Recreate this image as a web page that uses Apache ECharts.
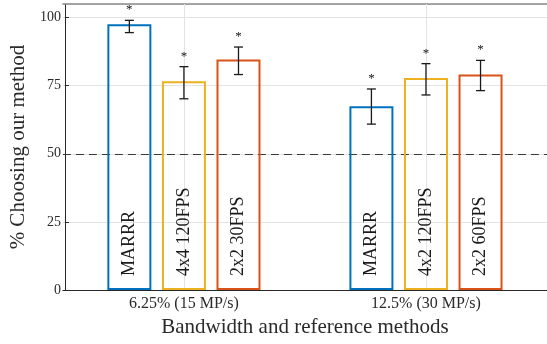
<!DOCTYPE html>
<html>
<head>
<meta charset="utf-8">
<script src="https://cdn.jsdelivr.net/npm/echarts@6/dist/echarts.min.js"></script>
<style>
html,body{margin:0;padding:0;background:#fff;}
#chart{width:547px;height:344px;}
</style>
</head>
<body>
<div id="chart"></div>
<script>
// ---- data ----
const categories = ['6.25% (15 MP/s)', '12.5% (30 MP/s)'];
const methodLabels = [
  ['MARRR', 'MARRR'],
  ['4x4 120FPS', '4x2 120FPS'],
  ['2x2 30FPS', '2x2 60FPS']
];
const means = [
  [97.6, 67.5],
  [76.6, 77.8],
  [84.6, 79.1]
];
const errLow = [
  [94.5, 60.9],
  [70.2, 71.6],
  [79.1, 73.2]
];
const errHigh = [
  [99.0, 73.8],
  [82.0, 83.1],
  [89.2, 84.3]
];
const significance = [
  ['*', '*'],
  ['*', '*'],
  ['*', '*']
];
const yTicks = [0, 25, 50, 75, 100];
const chanceLevel = 50;

// ---- style ----
const colors = ['#0072BD', '#EDB120', '#D95319'];
const serif = '"Liberation Serif", "DejaVu Serif", serif';
const barWidth = 44;
const barGap = 0.24;
const textColor = '#2a2a2a';

const chart = echarts.init(document.getElementById('chart'), null, {renderer: 'canvas'});

const series = [];
means.forEach((vals, m) => {
  const s = {
    type: 'bar',
    name: 'm' + m,
    barWidth: barWidth,
    barGap: (barGap * 100) + '%',
    data: vals,
    itemStyle: {color: 'rgba(255,255,255,0)', borderColor: colors[m], borderWidth: 2},
    label: {
      show: true,
      position: 'insideBottom',
      rotate: 90,
      align: 'left',
      verticalAlign: 'middle',
      distance: 14,
      formatter: p => methodLabels[m][p.dataIndex],
      fontFamily: serif,
      fontSize: 18,
      color: '#1a1a1a'
    },
    emphasis: {disabled: true},
    z: 3
  };
  series.push(s);
});

means.forEach((vals, m) => {
  const offset = (m - 1) * barWidth * (1 + barGap);
  const s = {
    type: 'custom',
    name: 'err' + m,
    encode: {x: 0, y: [1, 2]},
    data: vals.map((v, i) => [i, errLow[m][i], errHigh[m][i]]),
    z: 5,
    silent: true,
    renderItem: function (params, api) {
      const ci = api.value(0);
      const lo = api.coord([ci, api.value(1)]);
      const hi = api.coord([ci, api.value(2)]);
      const x = lo[0] + offset;
      const cap = 4.5;
      const st = {stroke: '#1a1a1a', lineWidth: 1.3};
      return {
        type: 'group',
        children: [
          {type: 'line', shape: {x1: x, y1: lo[1], x2: x, y2: hi[1]}, style: st},
          {type: 'line', shape: {x1: x - cap, y1: lo[1], x2: x + cap, y2: lo[1]}, style: st},
          {type: 'line', shape: {x1: x - cap, y1: hi[1], x2: x + cap, y2: hi[1]}, style: st},
          {type: 'text', style: {
            text: significance[m][params.dataIndex], x: x, y: hi[1] - 4,
            align: 'center', verticalAlign: 'bottom',
            font: '13px ' + serif, fill: '#111'
          }}
        ]
      };
    }
  };
  if (m === 1) {
    s.markLine = {
      silent: true,
      symbol: 'none',
      label: {show: false},
      z: 1,
      data: [
        {xAxis: 0, lineStyle: {color: '#e3e3e3', width: 1, type: 'solid'}},
        {xAxis: 1, lineStyle: {color: '#e3e3e3', width: 1, type: 'solid'}},
        {yAxis: chanceLevel, lineStyle: {color: '#3a3a3a', width: 1, type: [8, 5]}}
      ]
    };
  }
  series.push(s);
});

const option = {
  animation: false,
  backgroundColor: '#fff',
  grid: {left: 61, right: -7, top: 4, bottom: 54, containLabel: false},
  xAxis: [{
    type: 'category',
    data: categories,
    position: 'bottom',
    axisLine: {lineStyle: {color: '#262626', width: 1}},
    axisTick: {show: true, inside: true, alignWithLabel: true, length: 5, lineStyle: {color: '#262626'}},
    axisLabel: {fontFamily: serif, fontSize: 16, color: textColor, margin: 6},
    splitLine: {show: false},
    name: 'Bandwidth and reference methods',
    nameLocation: 'middle',
    nameGap: 27,
    nameTextStyle: {fontFamily: serif, fontSize: 21, color: textColor}
  }, {
    type: 'category',
    data: categories,
    position: 'top',
    axisLine: {lineStyle: {color: '#8a8a8a', width: 1.5}},
    axisTick: {show: true, inside: true, alignWithLabel: true, length: 4, lineStyle: {color: '#262626'}},
    axisLabel: {show: false},
    splitLine: {show: false}
  }],
  yAxis: {
    type: 'value',
    min: 0,
    max: 105,
    interval: 25,
    offset: -2,
    axisLine: {show: true, lineStyle: {color: '#262626', width: 1}},
    axisTick: {show: true, inside: true, length: 4, lineStyle: {color: '#262626'}},
    axisLabel: {
      fontFamily: serif, fontSize: 14, color: textColor, margin: 4,
      showMaxLabel: false,
      formatter: v => (yTicks.indexOf(v) >= 0 ? String(v) : '')
    },
    splitLine: {show: true, lineStyle: {color: '#e3e3e3', width: 1}},
    name: '% Choosing our method',
    nameLocation: 'middle',
    nameGap: 30,
    nameTextStyle: {fontFamily: serif, fontSize: 21, color: textColor}
  },
  series: series
};
chart.setOption(option);
</script>
</body>
</html>
